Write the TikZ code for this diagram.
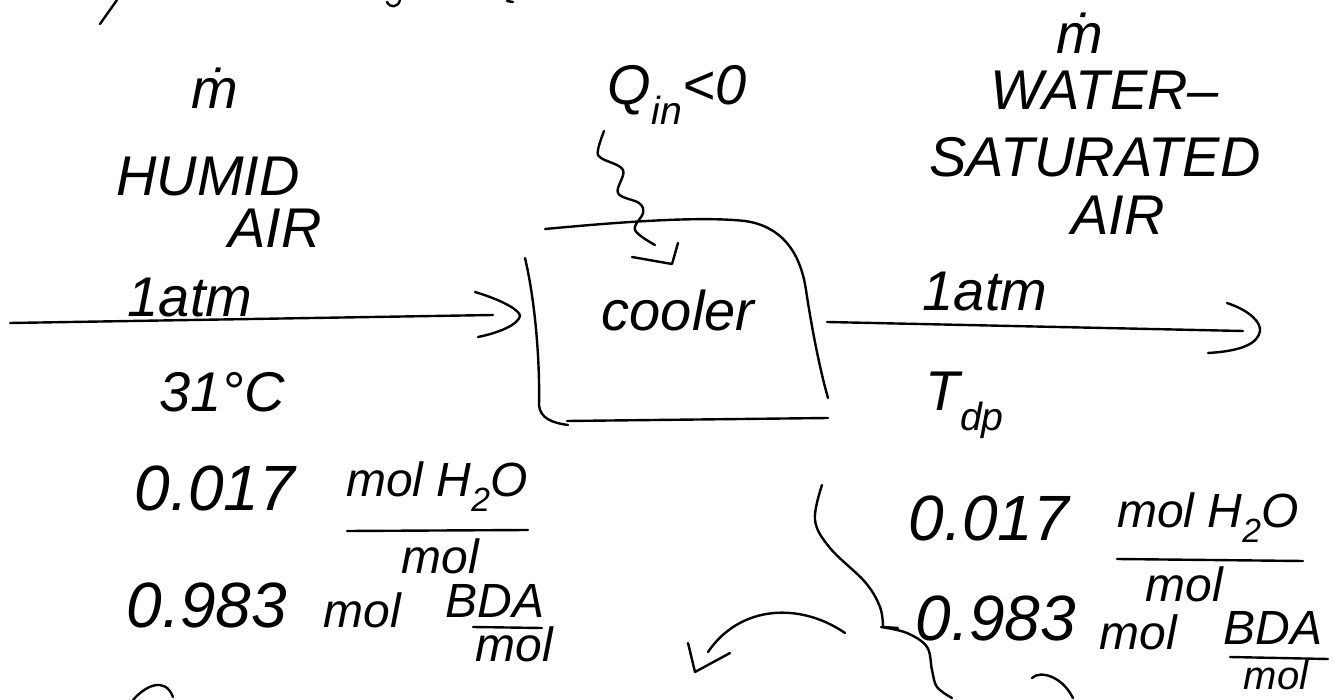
\documentclass[tikz,border=0pt]{standalone}
\usepackage{fontspec}
\setmainfont{Liberation Sans}
\begin{document}
\begin{tikzpicture}[x=1pt,y=-1pt,
  ink/.style={line width=2.4pt, line cap=round, line join=round, black},
  hand/.style={font=\fontsize{56}{60}\selectfont\itshape, inner sep=0pt, anchor=center},
  bighand/.style={hand, font=\fontsize{64}{68}\selectfont\itshape},
  smallhand/.style={hand, font=\fontsize{48}{52}\selectfont\itshape},
  tinyhand/.style={hand, font=\fontsize{40}{44}\selectfont\itshape},
]
\useasboundingbox (0,0) rectangle (1334,700);

% stray pen strokes along the top edge
\draw[ink] (100,24) -- (117,0);
\draw[ink] (387,2) .. controls (390,8) and (398,8) .. (400,0);
\draw[ink] (507,1) -- (513,2);

% ---------------- inlet stream ----------------
\node[hand] (mL) at (215,88) {\.m};
\node[hand] (humid) at (208,177) {HUMID};
\node[hand] (airL) at (275,228) {AIR};
\node[hand] (atmL) at (190,298) {1atm};
\coordinate (inStart) at (10,323);
\coordinate (inEnd) at (493,315);
\draw[ink] (inStart) -- (inEnd);
\draw[ink] ([shift={(-18,-23)}]inEnd) .. controls ([shift={(12,-14)}]inEnd) and ([shift={(27,-4)}]inEnd) .. ([shift={(27,1)}]inEnd)
  .. controls ([shift={(25,10)}]inEnd) and ([shift={(5,18)}]inEnd) .. ([shift={(-15,22)}]inEnd);

\node[hand] (tempL) at (222,392) {31°C};
\node[bighand] (xwL) at (215,488) {0.017};
\node[smallhand] (numwL) at (437,487) {mol H\textsubscript{2}O};
\draw[ink] (347,531) -- (528,530);
\node[smallhand] (denwL) at (440,556) {mol};
\node[bighand] (xaL) at (207,605) {0.983};
\node[smallhand] (molaL) at (362,610) {mol};
\node[smallhand] (numaL) at (495,601) {BDA};
\draw[ink] (473,627) -- (542,628);
\node[smallhand] (denaL) at (514,644) {mol};

% ---------------- cooler ----------------
\node[hand] (cooler) at (678,310) {cooler};
\draw[ink] (545,229) .. controls (620,222) and (700,216) .. (745,221)
  .. controls (780,226) and (800,250) .. (806,290) .. controls (812,330) and (820,370) .. (828,398);
\draw[ink] (525,258) .. controls (535,300) and (540,360) .. (539,405)
  .. controls (540,418) and (552,423) .. (568,425);
\draw[ink] (567,421) -- (828,418);

% heat removed
\node[hand] (heat) at (677,95) {Q\textsubscript{in}<0};
\draw[ink] plot[smooth, tension=0.6] coordinates {(604,131) (598,150) (601,158) (623,170) (618,193) (639,203) (643,213) (635,230) (655,245)};
\draw[ink] (632,257) -- (672,264) -- (678,243);

% ---------------- outlet stream ----------------
\node[hand] (mR) at (1080,33) {\.m};
\node[hand] (water) at (1105,90) {WATER–};
\node[hand] (saturated) at (1095,157) {SATURATED};
\node[hand] (airR) at (1118,215) {AIR};
\node[hand] (atmR) at (985,292) {1atm};
\coordinate (outStart) at (827,322);
\coordinate (outEnd) at (1243,331);
\draw[ink] (outStart) -- (outEnd);
\draw[ink] ([shift={(-16,-28)}]outEnd) .. controls ([shift={(8,-20)}]outEnd) and ([shift={(18,-8)}]outEnd) .. ([shift={(17,0)}]outEnd)
  .. controls ([shift={(15,12)}]outEnd) and ([shift={(0,20)}]outEnd) .. ([shift={(-35,22)}]outEnd);

\node[hand] (dew) at (965,405) {T\textsubscript{dp}};
\node[bighand] (xwR) at (989,518) {0.017};
\node[smallhand] (numwR) at (1208,518) {mol H\textsubscript{2}O};
\draw[ink] (1117,559) -- (1303,561);
\node[smallhand] (denwR) at (1184,584) {mol};
\node[bighand] (xaR) at (996,618) {0.983};
\node[smallhand] (molaR) at (1138,632) {mol};
\node[smallhand] (numaR) at (1273,628) {BDA};
\draw[ink] (1230,657) -- (1328,659);
\node[tinyhand] (denaR) at (1276,675) {mol};

% ---------------- bracket and note arrow ----------------
\draw[ink] plot[smooth, tension=0.6] coordinates {(822,485) (815,520) (830,548) (865,582) (880,607) (883,627)};
\draw[ink] (883,627) -- (898,628);
\draw[ink] plot[smooth, tension=0.6] coordinates {(881,627) (907,633) (927,647) (932,670) (937,687) (952,698)};
\coordinate (noteStart) at (845,633);
\coordinate (noteEnd) at (708,652);
\draw[ink] (noteStart) .. controls (800,602) and (740,605) .. (noteEnd);
\draw[ink] (688,643) -- (695,672) -- (730,653);

% partial strokes along the bottom edge
\draw[ink] (1032,678) .. controls (1040,670) and (1062,676) .. (1073,698);
\draw[ink] (133,700) .. controls (145,686) and (165,676) .. (173,697);
\end{tikzpicture}
\end{document}
